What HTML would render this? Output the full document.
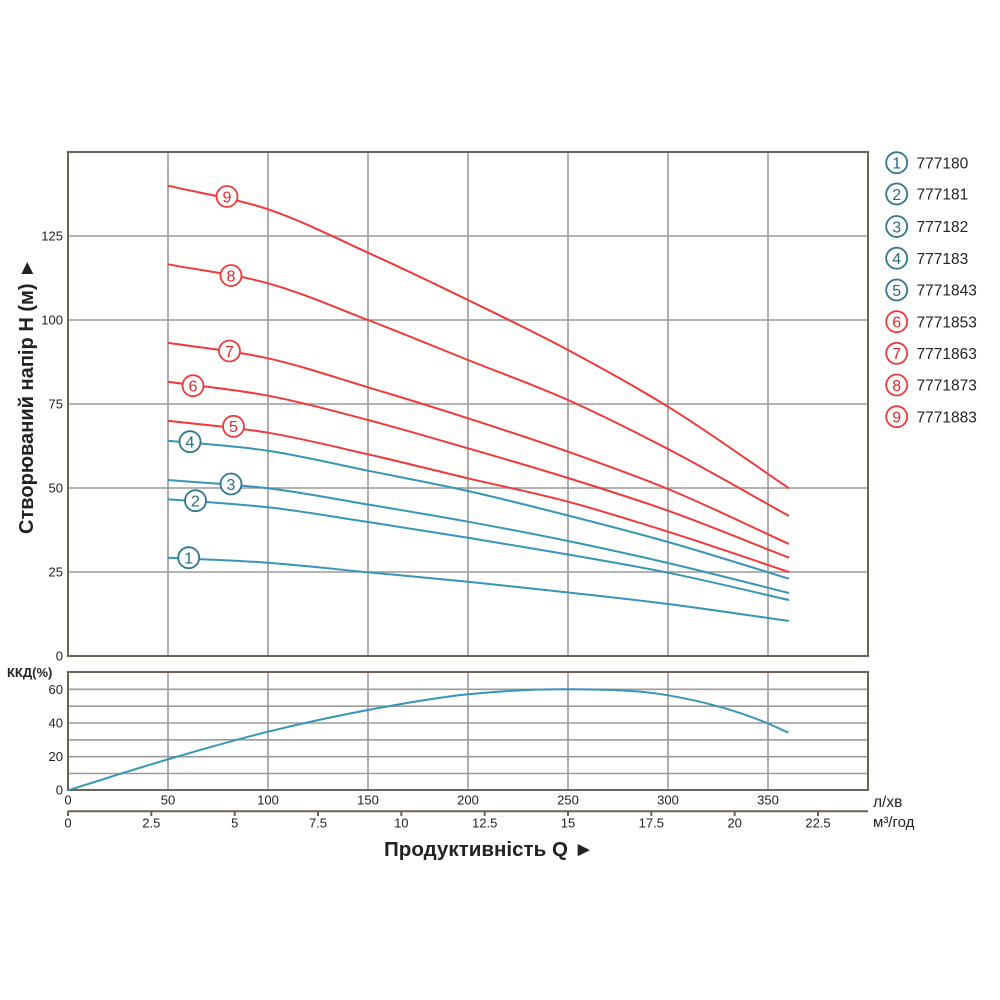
<!DOCTYPE html>
<html>
<head>
<meta charset="utf-8">
<style>
html,body{margin:0;padding:0;background:#fff;}
svg{display:block;}
text{font-family:"Liberation Sans","DejaVu Sans",sans-serif;}
</style>
</head>
<body>
<svg id="s" width="1000" height="1000" viewBox="0 0 1000 1000" xmlns="http://www.w3.org/2000/svg">
<rect width="1000" height="1000" fill="#fff"/>
<g stroke="#9a9a9a" stroke-width="1.6" fill="none">
  <path d="M168 152V656M268 152V656M368 152V656M468 152V656M568 152V656M668 152V656M768 152V656"/>
  <path d="M68 236H868M68 320H868M68 404H868M68 488H868M68 572H868"/>
  <path d="M168 672V790M268 672V790M368 672V790M468 672V790M568 672V790M668 672V790M768 672V790"/>
  <path d="M68 689.3H868M68 706.2H868M68 723H868M68 739.8H868M68 756.7H868M68 773.5H868"/>
</g>
<g stroke="#6b6354" stroke-width="2" fill="none">
  <rect x="68" y="152" width="800" height="504"/>
  <rect x="68" y="672" width="800" height="118"/>
  <path d="M68 811.3H868"/>
  <path d="M68 811V816M151.3 811V816M234.7 811V816M318 811V816M401.3 811V816M484.7 811V816M568 811V816M651.3 811V816M734.7 811V816M818 811V816"/>
</g>

<g font-size="13" fill="#222" text-anchor="end">
  <text x="63" y="660.5">0</text>
  <text x="63" y="576.5">25</text>
  <text x="63" y="492.5">50</text>
  <text x="63" y="408.5">75</text>
  <text x="63" y="324.5">100</text>
  <text x="63" y="240.5">125</text>
  <text x="63" y="693.8">60</text>
  <text x="63" y="727.5">40</text>
  <text x="63" y="761.2">20</text>
  <text x="63" y="794.5">0</text>
</g>
<text x="7" y="677" font-size="13" font-weight="bold" fill="#222">ККД(%)</text>

<g font-size="13" fill="#222" text-anchor="middle">
  <text x="68" y="804.5">0</text>
  <text x="168" y="804.5">50</text>
  <text x="268" y="804.5">100</text>
  <text x="368" y="804.5">150</text>
  <text x="468" y="804.5">200</text>
  <text x="568" y="804.5">250</text>
  <text x="668" y="804.5">300</text>
  <text x="768" y="804.5">350</text>
  <text x="68" y="827.5">0</text>
  <text x="151.3" y="827.5">2.5</text>
  <text x="234.7" y="827.5">5</text>
  <text x="318" y="827.5">7.5</text>
  <text x="401.3" y="827.5">10</text>
  <text x="484.7" y="827.5">12.5</text>
  <text x="568" y="827.5">15</text>
  <text x="651.3" y="827.5">17.5</text>
  <text x="734.7" y="827.5">20</text>
  <text x="818" y="827.5">22.5</text>
</g>
<text x="873" y="807" font-size="15.5" fill="#222">л/хв</text>
<text x="873" y="827" font-size="15" fill="#222">м³/год</text>

<text x="384" y="856" font-size="20.5" font-weight="bold" fill="#222" textLength="210" lengthAdjust="spacingAndGlyphs">Продуктивність  Q ►</text>
<text x="33" y="396" font-size="20" font-weight="bold" fill="#222" text-anchor="middle" textLength="276" lengthAdjust="spacingAndGlyphs" transform="rotate(-90 33 396)">Створюваний напір Н (м) ►</text>

<g id="curves" fill="none" stroke-width="2">
  <path id="c9" stroke="#f03a3a" d="M168 185.7L268 209.3L368 252.7L468 300L568 350L668 406.7L789 488.3"/>
  <path id="c8" stroke="#f03a3a" d="M168 264.3L268 283.3L368 320L468 360L568 400L668 449L789 516"/>
  <path id="c7" stroke="#f03a3a" d="M168 342.7L268 358.3L368 387.3L468 418.3L568 451.7L668 489L789 544"/>
  <path id="c6" stroke="#f03a3a" d="M168 381.7L268 395.7L368 420L468 448.3L568 478L668 510.7L789 557.7"/>
  <path id="c5" stroke="#f03a3a" d="M168 420.7L268 432.7L368 454.3L468 478.3L568 501.7L668 531.7L789 572"/>
  <path id="c4" stroke="#3796b6" d="M168 440.7L268 450.7L368 470.7L468 491L568 515.5L668 542L789 578.7"/>
  <path id="c3" stroke="#3796b6" d="M168 480L268 488.3L368 504.5L468 521.7L568 541L668 563L789 593"/>
  <path id="c2" stroke="#3796b6" d="M168 499.3L268 507.3L368 522L468 537.7L568 554.5L668 572.7L789 600"/>
  <path id="c1" stroke="#3796b6" d="M168 557.7L268 562.7L368 572.3L468 581.7L568 592.5L668 604L789 621"/>
  <path id="ce" stroke="#3796b6" d="M68 790.3L168 759.3L268 731.7L368 710L468 694.3L568 689.3L668 695.3L768 723.5L788.5 732.7"/>
</g>

<g stroke-width="1.8" fill="#fff">
  <circle cx="227" cy="196.5" r="10.5" stroke="#f03a3a"/>
  <circle cx="231" cy="275.5" r="10.5" stroke="#f03a3a"/>
  <circle cx="229.5" cy="351" r="10.5" stroke="#f03a3a"/>
  <circle cx="193" cy="385.7" r="10.5" stroke="#f03a3a"/>
  <circle cx="233.5" cy="426.3" r="10.5" stroke="#f03a3a"/>
  <circle cx="190" cy="441.7" r="10.5" stroke="#2f7690"/>
  <circle cx="231" cy="484" r="10.5" stroke="#2f7690"/>
  <circle cx="195.5" cy="500.7" r="10.5" stroke="#2f7690"/>
  <circle cx="188.7" cy="557.7" r="10.5" stroke="#2f7690"/>
</g>
<g font-size="16" text-anchor="middle">
  <text x="227" y="202.3" fill="#e8262b">9</text>
  <text x="231" y="281.3" fill="#e8262b">8</text>
  <text x="229.5" y="356.8" fill="#e8262b">7</text>
  <text x="193" y="391.5" fill="#e8262b">6</text>
  <text x="233.5" y="432.1" fill="#e8262b">5</text>
  <text x="190" y="447.5" fill="#2a6a82">4</text>
  <text x="231" y="489.8" fill="#2a6a82">3</text>
  <text x="195.5" y="506.5" fill="#2a6a82">2</text>
  <text x="188.7" y="563.5" fill="#2a6a82">1</text>
</g>

<g stroke-width="1.8" fill="#fff">
  <circle cx="896.7" cy="162.7" r="10.5" stroke="#2f7690"/>
  <circle cx="896.7" cy="194" r="10.5" stroke="#2f7690"/>
  <circle cx="896.7" cy="226.5" r="10.5" stroke="#2f7690"/>
  <circle cx="896.7" cy="258.2" r="10.5" stroke="#2f7690"/>
  <circle cx="896.7" cy="290" r="10.5" stroke="#2f7690"/>
  <circle cx="896.7" cy="321.7" r="10.5" stroke="#f03a3a"/>
  <circle cx="896.7" cy="353.3" r="10.5" stroke="#f03a3a"/>
  <circle cx="896.7" cy="385" r="10.5" stroke="#f03a3a"/>
  <circle cx="896.7" cy="416.7" r="10.5" stroke="#f03a3a"/>
</g>
<g font-size="16" text-anchor="middle">
  <text x="896.7" y="168.5" fill="#2a6a82">1</text>
  <text x="896.7" y="199.8" fill="#2a6a82">2</text>
  <text x="896.7" y="232.3" fill="#2a6a82">3</text>
  <text x="896.7" y="264" fill="#2a6a82">4</text>
  <text x="896.7" y="295.8" fill="#2a6a82">5</text>
  <text x="896.7" y="327.5" fill="#e8262b">6</text>
  <text x="896.7" y="359.1" fill="#e8262b">7</text>
  <text x="896.7" y="390.8" fill="#e8262b">8</text>
  <text x="896.7" y="422.5" fill="#e8262b">9</text>
</g>
<g font-size="15.5" fill="#222">
  <text x="916.5" y="168.3">777180</text>
  <text x="916.5" y="199.6">777181</text>
  <text x="916.5" y="232.1">777182</text>
  <text x="916.5" y="263.8">777183</text>
  <text x="916.5" y="295.6">7771843</text>
  <text x="916.5" y="327.3">7771853</text>
  <text x="916.5" y="358.9">7771863</text>
  <text x="916.5" y="390.6">7771873</text>
  <text x="916.5" y="422.3">7771883</text>
</g>
</svg>
<script>
(function(){
  var ids=["c9","c8","c7","c6","c5","c4","c3","c2","c1","ce"];
  ids.forEach(function(id){
    var el=document.getElementById(id);
    var d=el.getAttribute("d");
    var nums=d.replace(/[ML]/g," ").trim().split(/\s+/).map(Number);
    var p=[];
    for(var i=0;i<nums.length;i+=2)p.push([nums[i],nums[i+1]]);
    var n=p.length;
    var sec=[];
    for(var i=0;i<n-1;i++)sec.push((p[i+1][1]-p[i][1])/(p[i+1][0]-p[i][0]));
    var m=[];
    for(var i=0;i<n;i++){
      if(i===0)m.push(sec[0]);
      else if(i===n-1)m.push(sec[n-2]);
      else{
        var h0=p[i][0]-p[i-1][0],h1=p[i+1][0]-p[i][0];
        m.push((sec[i-1]*h1+sec[i]*h0)/(h0+h1));
      }
    }
    var out="M"+p[0][0]+" "+p[0][1];
    for(var i=0;i<n-1;i++){
      var h=p[i+1][0]-p[i][0];
      var c1=[p[i][0]+h/3, p[i][1]+m[i]*h/3];
      var c2=[p[i+1][0]-h/3, p[i+1][1]-m[i+1]*h/3];
      out+="C"+c1[0].toFixed(2)+" "+c1[1].toFixed(2)+" "+c2[0].toFixed(2)+" "+c2[1].toFixed(2)+" "+p[i+1][0]+" "+p[i+1][1];
    }
    el.setAttribute("d",out);
  });
})();
</script>
</body>
</html>
